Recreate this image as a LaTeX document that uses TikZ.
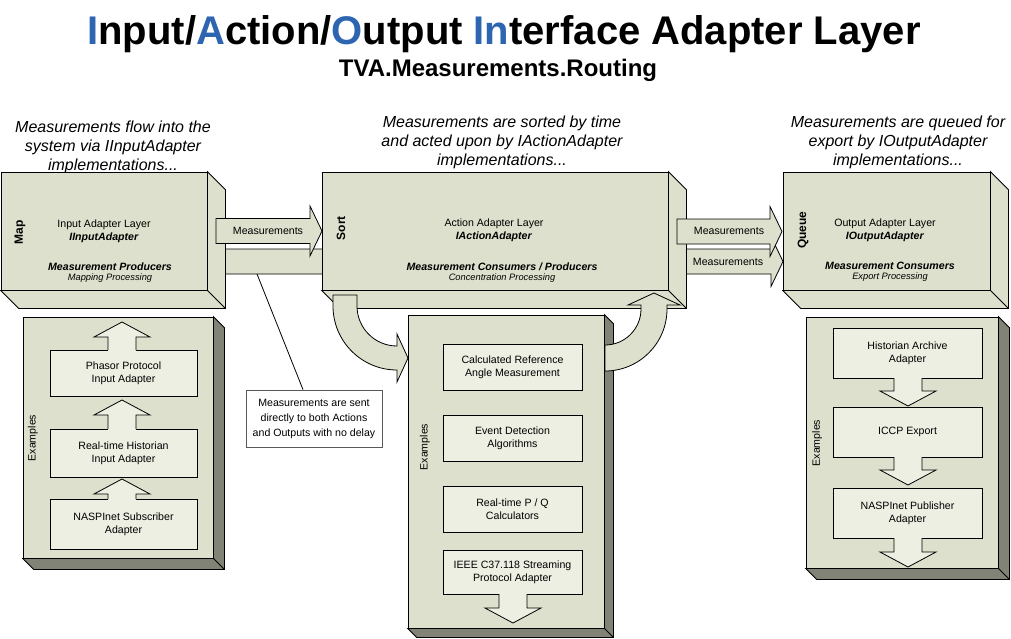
\documentclass[tikz,border=0pt]{standalone}
\usepackage{fontspec}
\setmainfont{Liberation Sans}
\usetikzlibrary{positioning}
\definecolor{boxfill}{RGB}{221,224,204}
\definecolor{exfill}{RGB}{237,239,227}
\definecolor{sidedark}{RGB}{128,131,117}
\definecolor{titleblue}{RGB}{46,101,176}
\newcommand{\fsbody}{\fontsize{10.6}{13}\selectfont}
\newcommand{\fssmall}{\fontsize{9.3}{11}\selectfont\itshape}
\newcommand{\fscap}{\fontsize{16}{19}\selectfont\itshape}
\newcommand{\bi}[1]{\textbf{\textit{#1}}}
\newcommand{\hl}[1]{{\color{titleblue}#1}}
\tikzstyle{every node}=[font=\fsbody]
\tikzstyle{layer}=[draw,fill=boxfill,rectangle,minimum height=118]
\tikzstyle{panel}=[draw,fill=boxfill,rectangle]
\tikzstyle{example}=[draw,fill=exfill,rectangle,align=center]
\tikzstyle{tag}=[rotate=90,font=\fontsize{12}{14}\selectfont\bfseries]
% 3d side and bottom faces of a box node
\newcommand{\extrude}[3]{%
  \filldraw[fill=#3] (#1.north east) -- ([shift={(#2,#2)}]#1.north east) -- ([shift={(#2,#2)}]#1.south east)
    -- ([shift={(#2,#2)}]#1.south west) -- (#1.south west) -- (#1.south east) -- cycle;
  \draw (#1.south east) -- ([shift={(#2,#2)}]#1.south east);}
% block arrows: x start, x tip, y centre / x centre, y base, y tip
\newcommand{\fatright}[3]{%
  \filldraw[fill=boxfill] (#1,#3-12.5) -- (#2-12,#3-12.5) -- (#2-12,#3-25) -- (#2,#3) -- (#2-12,#3+25)
    -- (#2-12,#3+12.5) -- (#1,#3+12.5) -- cycle;}
\newcommand{\fatup}[3]{%
  \fill[exfill] (#1-14,#2+0.8) -- (#1-14,#3+15) -- (#1-28,#3+15) -- (#1,#3) -- (#1+28,#3+15) -- (#1+14,#3+15) -- (#1+14,#2+0.8) -- cycle;
  \draw (#1-14,#2) -- (#1-14,#3+15) -- (#1-28,#3+15) -- (#1,#3) -- (#1+28,#3+15) -- (#1+14,#3+15) -- (#1+14,#2);}
\newcommand{\fatdown}[3]{%
  \fill[exfill] (#1-14,#2-0.8) -- (#1-14,#3-15) -- (#1-28,#3-15) -- (#1,#3) -- (#1+28,#3-15) -- (#1+14,#3-15) -- (#1+14,#2-0.8) -- cycle;
  \draw (#1-14,#2) -- (#1-14,#3-15) -- (#1-28,#3-15) -- (#1,#3) -- (#1+28,#3-15) -- (#1+14,#3-15) -- (#1+14,#2);}

\begin{document}
\begin{tikzpicture}[x=1pt,y=-1pt,line width=0.8pt]
    \useasboundingbox (0,0) rectangle (1011,638);
    % headings
    \node[anchor=base,font=\fontsize{40}{44}\selectfont\bfseries] (title) at (504,44) {\hl{I}nput/\hl{A}ction/\hl{O}utput \hl{In}terface Adapter Layer};
    \node[anchor=base,font=\fontsize{24}{28}\selectfont\bfseries] (subtitle) at (498,76) {TVA.Measurements.Routing};
    \node[font=\fscap,align=center] (incap) at (113,147) {Measurements flow into the\\system via IInputAdapter\\implementations...};
    \node[font=\fscap,align=center] (actcap) at (502,142) {Measurements are sorted by time\\and acted upon by IActionAdapter\\implementations...};
    \node[font=\fscap,align=center] (outcap) at (898,142) {Measurements are queued for\\export by IOutputAdapter\\implementations...};
    % layers
    \fatright{223}{783}{261.5}
    \node[layer,minimum width=206] (map) at (104,231) {};
    \extrude{map}{18}{boxfill}
    \node[layer,minimum width=346] (sort) at (495,231) {};
    \extrude{sort}{18}{boxfill}
    \node[layer,minimum width=207] (queue) at (886.5,231) {};
    \extrude{queue}{18}{boxfill}
    \node[tag] (maptag) at (20,232) {Map};
    \node[align=center] (mapname) at (104,231.5) {Input Adapter Layer\\\bi{IInputAdapter}};
    \node (maprole) at (110,267) {\bi{Measurement Producers}};
    \node[font=\fssmall] (mapproc) at (110,278.5) {Mapping Processing};
    \node[tag] (sorttag) at (341,228) {Sort};
    \node[align=center] (sortname) at (494,230.5) {Action Adapter Layer\\\bi{IActionAdapter}};
    \node (sortrole) at (502,267) {\bi{Measurement Consumers / Producers}};
    \node[font=\fssmall] (sortproc) at (502,278.5) {Concentration Processing};
    \node[tag] (queuetag) at (803,230) {Queue};
    \node[align=center] (queuename) at (885,230.5) {Output Adapter Layer\\\bi{IOutputAdapter}};
    \node (queuerole) at (890,266) {\bi{Measurement Consumers}};
    \node[font=\fssmall] (queueproc) at (890,277.5) {Export Processing};
    \fatright{216}{322}{231}
    \node (meas1) at (268,231) {Measurements};
    \fatright{677}{782}{231.5}
    \node (meas2) at (729,231) {Measurements};
    \node (meas3) at (728,261.5) {Measurements};
    % note
    \node[draw=black!65,fill=white,minimum width=136,minimum height=57,align=center,font=\fontsize{10.6}{15}\selectfont] (note) at (314,418.5) {Measurements are sent\\directly to both Actions\\and Outputs with no delay};
    \coordinate (tap) at (257,274);
    \draw (tap) -- ([xshift=-11]note.north);
    % input examples
    \node[panel,minimum width=190,minimum height=241] (inex) at (118,437.5) {};
    \extrude{inex}{11}{sidedark}
    \node[rotate=90] (inexlab) at (33,438) {Examples};
    \node[example,minimum width=147,minimum height=46] (phasor) at (123.5,373) {Phasor Protocol\\Input Adapter};
    \fatup{122}{350}{322}
    \node[example,minimum width=147,minimum height=48] (hist) at (123.5,453) {Real-time Historian\\Input Adapter};
    \fatup{122}{429}{400}
    \node[example,minimum width=147,minimum height=50] (subs) at (123.5,524) {NASPInet Subscriber\\Adapter};
    \fatup{122}{499}{479}
    % action examples
    \node[panel,minimum width=196,minimum height=313] (actex) at (506,471.5) {};
    \extrude{actex}{9}{sidedark}
    \node[rotate=90] (actexlab) at (425,447) {Examples};
    \node[example,minimum width=139,minimum height=46] (calc) at (512.5,367) {Calculated Reference\\Angle Measurement};
    \node[example,minimum width=139,minimum height=46] (event) at (512.5,438) {Event Detection\\Algorithms};
    \node[example,minimum width=139,minimum height=46] (pq) at (512.5,509) {Real-time P / Q\\Calculators};
    \node[example,minimum width=139,minimum height=44] (ieee) at (512.5,572) {IEEE C37.118 Streaming\\Protocol Adapter};
    \fatdown{513}{594}{623}
    % output examples
    \node[panel,minimum width=192,minimum height=251] (outex) at (902,442.5) {};
    \extrude{outex}{11}{sidedark}
    \node[rotate=90] (outexlab) at (817,443) {Examples};
    \node[example,minimum width=149,minimum height=50] (archive) at (907.5,353) {Historian Archive\\Adapter};
    \fatdown{908}{378}{406}
    \node[example,minimum width=149,minimum height=50] (iccp) at (907.5,432) {ICCP Export};
    \fatdown{908}{457}{485}
    \node[example,minimum width=149,minimum height=50] (pub) at (907.5,513) {NASPInet Publisher\\Adapter};
    \fatdown{908}{538}{567}
    % loop out of and back into the action layer
    \filldraw[fill=boxfill] (333,295) -- (357,295) -- (357,306) arc[start angle=180,end angle=90,radius=40]
        -- (397,334) -- (408,358) -- (397,382) -- (397,370) arc[start angle=90,end angle=180,radius=64] -- cycle;
    \filldraw[fill=boxfill] (605,345) arc[start angle=90,end angle=0,radius=36] -- (641,305) -- (628,305) -- (654,293)
        -- (680,305) -- (667,305) -- (667,309) arc[start angle=0,end angle=90,radius=62] -- cycle;
\end{tikzpicture}
\end{document}
